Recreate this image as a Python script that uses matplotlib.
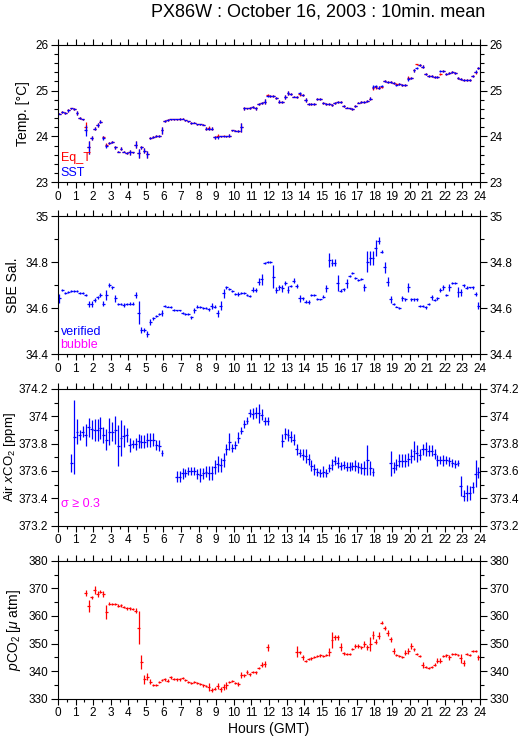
import numpy as np
import matplotlib.pyplot as plt
from matplotlib.ticker import MultipleLocator

plt.rcParams["font.family"] = ["Liberation Sans", "DejaVu Sans"]
plt.rcParams["mathtext.fontset"] = "custom"
plt.rcParams["mathtext.rm"] = "Liberation Sans"
plt.rcParams["mathtext.it"] = "Liberation Sans:italic"

nan = np.nan

# 10 minute slots, centre of each slot (hours GMT)
hours = np.arange(0, 24, 1 / 6) + 1 / 12

# one row per hour, 6 values per row
sst = [
    24.50, 24.53, 24.51, 24.57, 24.61, 24.60,
    24.51, 24.41, 24.37, 24.13, 23.76, 23.97,
    24.17, 24.25, 24.32, 23.96, 23.79, 23.86,
    23.87, 23.76, 23.67, 23.73, 23.67, 23.64,
    23.65, 23.65, 23.82, 23.63, 23.76, 23.69,
    23.61, 23.97, 23.99, 24.01, 24.01, 24.13,
    24.33, 24.36, 24.37, 24.37, 24.37, 24.38,
    24.39, 24.35, 24.33, 24.30, 24.30, 24.27,
    24.27, 24.26, 24.17, 24.17, 24.17, 23.98,
    23.98, 24.00, 24.00, 24.00, 24.02, 24.13,
    24.12, 24.12, 24.20, 24.61, 24.61, 24.62,
    24.65, 24.61, 24.70, 24.73, 24.76, 24.89,
    24.89, 24.88, 24.84, 24.76, 24.75, 24.86,
    24.94, 24.92, 24.87, 24.86, 24.94, 24.91,
    24.79, 24.70, 24.70, 24.71, 24.81, 24.81,
    24.73, 24.71, 24.70, 24.69, 24.73, 24.75,
    24.76, 24.66, 24.63, 24.61, 24.60, 24.67,
    24.74, 24.75, 24.76, 24.77, 24.82, 25.08,
    25.09, 25.06, 25.10, 25.21, 25.18, 25.18,
    25.17, 25.13, 25.15, 25.12, 25.12, 25.25,
    25.28, 25.44, 25.49, 25.56, 25.52, 25.37,
    25.31, 25.31, 25.30, 25.30, 25.43, 25.43,
    25.37, 25.38, 25.40, 25.39, 25.28, 25.26,
    25.23, 25.23, 25.23, 25.31, 25.41, 25.50,
]
sst_sd = [
    0.02, 0.02, 0.02, 0.03, 0.02, 0.02,
    0.04, 0.02, 0.02, 0.11, 0.15, 0.05,
    0.04, 0.04, 0.03, 0.04, 0.05, 0.02,
    0.02, 0.04, 0.02, 0.03, 0.02, 0.02,
    0.05, 0.02, 0.07, 0.10, 0.03, 0.05,
    0.08, 0.02, 0.02, 0.02, 0.02, 0.07,
    0.02, 0.02, 0.01, 0.01, 0.01, 0.02,
    0.02, 0.01, 0.01, 0.02, 0.01, 0.01,
    0.01, 0.01, 0.04, 0.04, 0.03, 0.04,
    0.04, 0.02, 0.02, 0.02, 0.04, 0.02,
    0.01, 0.02, 0.10, 0.03, 0.02, 0.02,
    0.02, 0.04, 0.02, 0.03, 0.05, 0.02,
    0.02, 0.02, 0.02, 0.04, 0.02, 0.04,
    0.04, 0.02, 0.02, 0.02, 0.03, 0.02,
    0.04, 0.02, 0.02, 0.02, 0.02, 0.02,
    0.02, 0.02, 0.02, 0.02, 0.02, 0.02,
    0.02, 0.02, 0.02, 0.02, 0.02, 0.02,
    0.02, 0.02, 0.02, 0.02, 0.03, 0.05,
    0.04, 0.03, 0.03, 0.02, 0.02, 0.02,
    0.02, 0.02, 0.02, 0.02, 0.02, 0.04,
    0.02, 0.03, 0.02, 0.02, 0.03, 0.02,
    0.02, 0.02, 0.02, 0.02, 0.02, 0.02,
    0.02, 0.02, 0.02, 0.02, 0.02, 0.02,
    0.02, 0.02, 0.02, 0.02, 0.03, 0.02,
]
eq_t = [
    24.50, 24.53, 24.51, 24.57, 24.61, 24.60,
    24.51, 24.41, 24.37, 24.21, 23.76, 23.97,
    24.17, 24.25, 24.32, 23.98, 23.81, 23.86,
    23.87, 23.76, 23.67, 23.73, 23.67, 23.64,
    23.65, 23.65, 23.82, 23.63, 23.76, 23.69,
    23.61, 23.97, 23.99, 24.01, 24.01, 24.13,
    24.33, 24.36, 24.37, 24.37, 24.37, 24.38,
    24.39, 24.35, 24.33, 24.30, 24.30, 24.27,
    24.27, 24.26, 24.17, 24.18, 24.17, 23.98,
    24.02, 24.00, 24.02, 24.00, 24.02, 24.13,
    24.12, 24.12, 24.20, 24.61, 24.61, 24.62,
    24.65, 24.61, 24.70, 24.73, 24.76, 24.91,
    24.89, 24.88, 24.84, 24.76, 24.75, 24.86,
    24.94, 24.92, 24.87, 24.86, 24.92, 24.91,
    24.79, 24.70, 24.70, 24.71, 24.81, 24.81,
    24.73, 24.71, 24.70, 24.69, 24.73, 24.75,
    24.76, 24.66, 24.63, 24.61, 24.60, 24.67,
    24.74, 24.75, 24.76, 24.77, 24.82, 25.06,
    25.07, 25.06, 25.08, 25.21, 25.18, 25.18,
    25.17, 25.15, 25.15, 25.12, 25.12, 25.27,
    25.28, 25.44, 25.57, 25.56, 25.52, 25.37,
    25.31, 25.31, 25.29, 25.30, 25.36, 25.43,
    25.37, 25.38, 25.40, 25.39, 25.28, 25.26,
    25.23, 25.23, 25.23, 25.32, 25.40, 25.50,
]

sal = [
    34.643, 34.680, 34.667, 34.670, 34.676, 34.676,
    34.673, 34.667, 34.667, 34.657, 34.618, 34.618,
    34.636, 34.647, 34.657, 34.620, 34.657, 34.700,
    34.690, 34.643, 34.618, 34.618, 34.614, 34.618,
    34.620, 34.620, 34.657, 34.580, 34.505, 34.505,
    34.488, 34.540, 34.556, 34.566, 34.575, 34.578,
    34.610, 34.607, 34.604, 34.592, 34.590, 34.590,
    34.580, 34.575, 34.575, 34.560, 34.590, 34.607,
    34.605, 34.600, 34.600, 34.595, 34.610, 34.607,
    34.578, 34.610, 34.665, 34.690, 34.682, 34.676,
    34.662, 34.662, 34.665, 34.667, 34.657, 34.653,
    34.680, 34.680, 34.715, 34.725, 34.795, 34.800,
    34.800, 34.737, 34.680, 34.690, 34.686, 34.708,
    34.680, 34.696, 34.720, 34.696, 34.643, 34.643,
    34.628, 34.628, 34.657, 34.657, 34.641, 34.638,
    34.650, 34.686, 34.810, 34.798, 34.798, 34.708,
    34.676, 34.682, 34.708, 34.740, 34.751, 34.731,
    34.722, 34.728, 34.690, 34.802, 34.816, 34.816,
    34.863, 34.892, 34.845, 34.777, 34.715, 34.638,
    34.618, 34.607, 34.600, 34.643, 34.638, 34.690,
    34.638, 34.638, 34.638, 34.610, 34.610, 34.604,
    34.618, 34.647, 34.636, 34.643, 34.680, 34.690,
    34.657, 34.690, 34.708, 34.708, 34.670, 34.670,
    34.700, 34.689, 34.690, 34.690, 34.662, 34.610,
]
sal_sd = [
    0.020, 0.005, 0.004, 0.004, 0.004, 0.004,
    0.004, 0.004, 0.004, 0.006, 0.015, 0.015,
    0.008, 0.008, 0.008, 0.010, 0.020, 0.010,
    0.008, 0.015, 0.006, 0.006, 0.008, 0.006,
    0.006, 0.008, 0.012, 0.050, 0.012, 0.010,
    0.015, 0.012, 0.006, 0.006, 0.006, 0.012,
    0.004, 0.004, 0.004, 0.004, 0.004, 0.004,
    0.004, 0.004, 0.004, 0.006, 0.012, 0.006,
    0.004, 0.004, 0.004, 0.006, 0.012, 0.006,
    0.015, 0.020, 0.020, 0.008, 0.004, 0.004,
    0.006, 0.008, 0.004, 0.004, 0.006, 0.006,
    0.010, 0.008, 0.015, 0.025, 0.004, 0.004,
    0.006, 0.050, 0.012, 0.010, 0.015, 0.008,
    0.015, 0.006, 0.010, 0.010, 0.015, 0.006,
    0.006, 0.008, 0.004, 0.004, 0.004, 0.004,
    0.006, 0.015, 0.030, 0.015, 0.015, 0.035,
    0.006, 0.006, 0.020, 0.006, 0.004, 0.006,
    0.006, 0.004, 0.015, 0.045, 0.030, 0.030,
    0.035, 0.015, 0.006, 0.025, 0.020, 0.015,
    0.006, 0.004, 0.004, 0.012, 0.008, 0.020,
    0.006, 0.006, 0.006, 0.006, 0.006, 0.006,
    0.006, 0.012, 0.006, 0.006, 0.008, 0.012,
    0.006, 0.015, 0.004, 0.004, 0.020, 0.015,
    0.006, 0.006, 0.004, 0.006, 0.010, 0.015,
]

air = [
    nan, nan, nan, nan, 373.656, 373.846,
    373.888, 373.863, 373.888, 373.863, 373.920, 373.905,
    373.900, 373.900, 373.912, 373.863, 373.830, 373.888,
    373.888, 373.900, 373.783, 373.839, 373.856, 373.863,
    373.790, 373.798, 373.798, 373.820, 373.815, 373.815,
    373.827, 373.827, 373.830, 373.790, 373.783, 373.730,
    nan, nan, nan, nan, 373.558, 373.558,
    373.583, 373.583, 373.602, 373.602, 373.602, 373.578,
    373.571, 373.583, 373.595, 373.583, 373.583, 373.627,
    373.651, 373.644, 373.680, 373.759, 373.815, 373.766,
    373.790, 373.844, 373.893, 373.944, 373.968, 374.022,
    374.017, 374.027, 374.022, 374.010, 373.968, 373.968,
    nan, nan, nan, nan, 373.822, 373.871,
    373.863, 373.851, 373.830, 373.759, 373.734, 373.717,
    373.710, 373.685, 373.637, 373.612, 373.595, 373.583,
    373.595, 373.583, 373.620, 373.644, 373.676, 373.661,
    373.637, 373.644, 373.632, 373.632, 373.637, 373.637,
    373.627, 373.620, 373.620, 373.680, 373.620, 373.595,
    nan, nan, nan, nan, nan, 373.656,
    373.624, 373.644, 373.676, 373.676, 373.676, 373.685,
    373.710, 373.749, 373.729, 373.717, 373.759, 373.759,
    373.749, 373.749, 373.724, 373.680, 373.680, 373.680,
    373.680, 373.670, 373.660, 373.650, 373.660, 373.490,
    373.420, 373.440, 373.440, 373.480, 373.580, 373.590,
]
air_sd = [
    nan, nan, nan, nan, 0.065, 0.270,
    0.090, 0.040, 0.040, 0.080, 0.070, 0.070,
    0.080, 0.080, 0.080, 0.060, 0.080, 0.100,
    0.070, 0.100, 0.150, 0.130, 0.080, 0.050,
    0.050, 0.030, 0.045, 0.050, 0.050, 0.050,
    0.050, 0.050, 0.050, 0.040, 0.040, 0.020,
    nan, nan, nan, nan, 0.040, 0.040,
    0.040, 0.030, 0.030, 0.030, 0.030, 0.035,
    0.050, 0.040, 0.040, 0.050, 0.050, 0.050,
    0.060, 0.050, 0.050, 0.040, 0.060, 0.030,
    0.030, 0.040, 0.025, 0.030, 0.025, 0.030,
    0.040, 0.040, 0.070, 0.040, 0.030, 0.030,
    nan, nan, nan, nan, 0.050, 0.040,
    0.045, 0.040, 0.040, 0.040, 0.030, 0.040,
    0.050, 0.040, 0.040, 0.040, 0.030, 0.030,
    0.040, 0.030, 0.030, 0.040, 0.030, 0.040,
    0.030, 0.030, 0.030, 0.030, 0.030, 0.040,
    0.040, 0.040, 0.050, 0.110, 0.050, 0.030,
    nan, nan, nan, nan, nan, 0.090,
    0.040, 0.040, 0.050, 0.050, 0.050, 0.050,
    0.050, 0.070, 0.060, 0.040, 0.040, 0.050,
    0.040, 0.040, 0.040, 0.040, 0.030, 0.040,
    0.030, 0.030, 0.030, 0.030, 0.020, 0.070,
    0.040, 0.060, 0.050, 0.040, 0.100, 0.040,
]

pco2 = [
    nan, nan, nan, nan, nan, nan,
    nan, nan, nan, 368.4, 363.6, 366.7,
    369.4, 367.9, 368.8, 367.9, 361.3, 364.5,
    364.3, 364.2, 363.7, 363.9, 363.3, 362.7,
    362.7, 362.4, 361.9, 355.8, 343.4, 337.0,
    338.0, 336.2, 335.0, 335.0, 336.2, 336.8,
    337.0, 336.5, 337.7, 337.2, 337.0, 337.0,
    337.4, 336.8, 336.2, 335.8, 336.2, 335.8,
    335.3, 334.8, 334.6, 334.3, 333.1, 333.6,
    334.6, 333.4, 334.3, 334.8, 336.2, 336.3,
    335.8, 335.3, 338.6, 338.5, 339.6, 338.9,
    339.8, 339.6, 341.2, 342.4, 342.6, 348.6,
    nan, nan, nan, nan, nan, nan,
    nan, nan, nan, 347.0, 346.8, 345.0,
    343.8, 344.5, 344.6, 345.0, 345.5, 345.7,
    345.5, 345.8, 347.0, 351.3, 352.2, 352.2,
    348.8, 346.4, 346.2, 346.2, 348.0, 349.1,
    349.1, 348.6, 349.8, 348.6, 349.7, 353.1,
    350.7, 352.8, 357.5, 355.5, 353.9, 351.5,
    347.3, 345.8, 345.5, 345.2, 346.7, 347.3,
    349.1, 347.9, 346.2, 345.6, 342.2, 341.6,
    341.0, 341.6, 342.4, 343.8, 343.8, 345.5,
    345.8, 345.0, 346.2, 346.2, 345.8, 344.6,
    343.0, 346.2, 345.8, 347.3, 347.3, 345.0,
]
pco2_sd = [
    nan, nan, nan, nan, nan, nan,
    nan, nan, nan, 1.0, 2.0, 0.5,
    1.3, 1.0, 0.5, 1.0, 2.5, 0.5,
    0.4, 0.4, 0.5, 0.5, 0.4, 0.5,
    0.4, 0.4, 0.8, 6.0, 2.5, 1.5,
    1.2, 1.0, 0.4, 0.4, 0.4, 0.4,
    0.5, 0.5, 0.4, 0.4, 0.5, 0.4,
    0.4, 0.4, 0.4, 0.4, 0.4, 0.4,
    0.4, 0.4, 0.5, 1.5, 0.8, 0.5,
    1.0, 0.8, 1.0, 1.2, 0.4, 0.4,
    0.4, 0.8, 1.0, 0.5, 0.8, 0.5,
    0.4, 0.5, 0.4, 1.0, 1.0, 1.3,
    nan, nan, nan, nan, nan, nan,
    nan, nan, nan, 2.0, 0.6, 1.0,
    0.4, 0.4, 0.4, 0.4, 0.4, 0.4,
    0.4, 0.4, 1.5, 3.0, 1.0, 1.0,
    1.5, 0.4, 0.4, 0.4, 0.4, 0.6,
    0.6, 0.6, 1.0, 1.0, 2.5, 1.3,
    1.0, 1.3, 0.5, 0.7, 1.0, 1.0,
    1.2, 0.4, 0.4, 0.4, 1.0, 1.0,
    1.0, 0.5, 0.4, 0.4, 1.0, 0.4,
    0.4, 0.4, 0.6, 1.0, 1.0, 0.5,
    0.5, 0.8, 0.5, 0.5, 0.4, 1.5,
    1.0, 0.4, 0.4, 0.5, 0.4, 0.8,
]

BLUE = "#0000ff"
RED = "#ff0000"
MAGENTA = "#ff00ff"
half_slot = 1 / 12

fig = plt.figure(figsize=(5.29, 7.39), dpi=100)
left, width = 0.1096, 0.7977
rects = [
    [left, 0.7533, width, 0.1862],
    [left, 0.5206, width, 0.1871],
    [left, 0.2886, width, 0.1852],
    [left, 0.0545, width, 0.1867],
]
axes = [fig.add_axes(r) for r in rects]


def style_axis(ax, ylo, yhi, major, minor, fmt):
    ax.set_xlim(0, 24)
    ax.set_ylim(ylo, yhi)
    ax.xaxis.set_major_locator(MultipleLocator(1))
    ax.xaxis.set_minor_locator(MultipleLocator(0.5))
    ax.yaxis.set_major_locator(MultipleLocator(major))
    ax.yaxis.set_minor_locator(MultipleLocator(minor))
    ax.tick_params(axis="both", which="both", direction="out", top=True, right=True,
                   labelright=True, width=0.8, labelsize=8.5, colors="black")
    ax.tick_params(axis="x", which="major", length=4, pad=2)
    ax.tick_params(axis="x", which="minor", length=2.2)
    ax.tick_params(axis="y", which="major", length=5, pad=2)
    ax.tick_params(axis="y", which="minor", length=3)
    ax.yaxis.set_major_formatter(plt.FuncFormatter(lambda v, p: fmt(v)))
    for s in ax.spines.values():
        s.set_linewidth(0.8)


def clean(v):
    return ("%.1f" % v).rstrip("0").rstrip(".")


def draw(ax, y, sd, color):
    ax.errorbar(hours, y, xerr=half_slot, yerr=sd, fmt="none", ecolor=color,
                elinewidth=0.9, capsize=0)


ax1, ax2, ax3, ax4 = axes

draw(ax1, eq_t, sst_sd, RED)
draw(ax1, sst, sst_sd, BLUE)
style_axis(ax1, 23, 26, 1, 0.2, lambda v: "%d" % round(v))
ax1.set_ylabel("Temp. [°C]", fontsize=10, labelpad=4)
ax1.text(0.006, 0.18, "Eq_T", color=RED, fontsize=9, transform=ax1.transAxes, va="center")
ax1.text(0.006, 0.07, "SST", color=BLUE, fontsize=9, transform=ax1.transAxes, va="center")

draw(ax2, sal, sal_sd, BLUE)
style_axis(ax2, 34.4, 35.0, 0.2, 0.1, clean)
ax2.set_ylabel("SBE Sal.", fontsize=10, labelpad=4)
ax2.text(0.006, 0.16, "verified", color=BLUE, fontsize=9, transform=ax2.transAxes, va="center")
ax2.text(0.006, 0.065, "bubble", color=MAGENTA, fontsize=9, transform=ax2.transAxes, va="center")

draw(ax3, air, air_sd, BLUE)
style_axis(ax3, 373.2, 374.2, 0.2, 0.1, clean)
ax3.set_ylabel(r"Air $\it{x}$CO$_2$ [ppm]", fontsize=9.5, labelpad=0.5)
ax3.text(0.006, 0.16, "σ ≥ 0.3", color=MAGENTA, fontsize=9, transform=ax3.transAxes, va="center")

draw(ax4, pco2, pco2_sd, RED)
style_axis(ax4, 330, 380, 10, 5, lambda v: "%d" % round(v))
ax4.set_ylabel(r"$\it{p}$CO$_2$ [$\mu$ atm]", fontsize=10, labelpad=4)
ax4.set_xlabel("Hours (GMT)", fontsize=10, labelpad=2)

fig.text(0.601, 0.984, "PX86W : October 16, 2003 : 10min. mean", fontsize=13,
         ha="center", va="center")

fig.savefig("out.png", dpi=100, facecolor="white")
